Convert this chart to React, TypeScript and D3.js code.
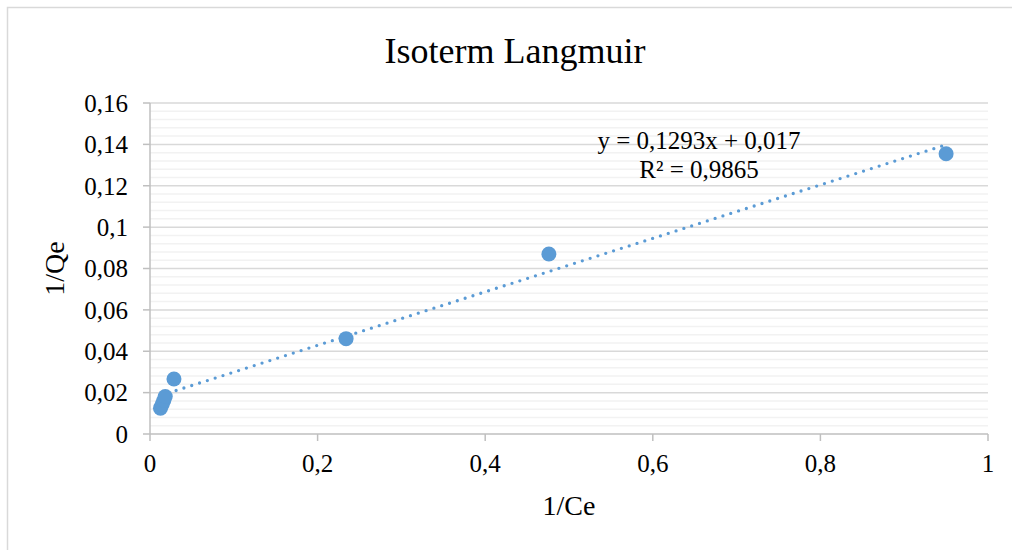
import React from 'react';
import * as d3 from 'd3';

// 1/Ce vs 1/Qe readings
const invCe = [0.0125, 0.0145, 0.0165, 0.0182, 0.0286, 0.234, 0.476, 0.95];
const invQe = [0.0125, 0.0143, 0.0162, 0.0181, 0.0266, 0.0461, 0.087, 0.1355];

// linear trendline as printed on the chart
const trendSlope = 0.1293;
const trendIntercept = 0.017;
const trendLabel = 'y = 0,1293x + 0,017';
const r2Label = 'R² = 0,9865';

const xTicks = [0, 0.2, 0.4, 0.6, 0.8, 1];
const yTicks = [0, 0.02, 0.04, 0.06, 0.08, 0.1, 0.12, 0.14, 0.16];

const W = 1012;
const H = 550;
const margin = { top: 103, right: 24, bottom: 116, left: 150 };
const FONT = '"Liberation Serif", "Times New Roman", serif';
const BLUE = '#5b9bd5';

const locale = d3.formatLocale({ decimal: ',', thousands: '.', grouping: [3], currency: ['', ''] });
const fmt = locale.format('~g');

export default function App() {
    const innerW = W - margin.left - margin.right;
    const innerH = H - margin.top - margin.bottom;

    const x = d3.scaleLinear().domain([0, 1]).range([margin.left, margin.left + innerW]);
    const y = d3.scaleLinear().domain([0, 0.16]).range([margin.top + innerH, margin.top]);

    const minorTicks = d3.range(0, 41).map(i => i * 0.004).filter((v, i) => i % 5 !== 0 && v <= 0.16);

    const points = invCe.map((v, i) => ({ x: v, y: invQe[i] }));
    const xMin = d3.min(invCe);
    const xMax = d3.max(invCe);
    const trend = d3.line()
        .x(d => x(d[0]))
        .y(d => y(d[1]));
    const trendPath = trend([
        [xMin, trendSlope * xMin + trendIntercept],
        [xMax, trendSlope * xMax + trendIntercept],
    ]);

    const x0 = x(0);
    const y0 = y(0);

    return (
        <svg width={W} height={H} style={{ position: 'absolute', left: 0, top: 0, background: '#fff' }}>
            <rect x={7.5} y={7.5} width={W + 20} height={H + 20} fill="#fff" stroke="#d9d9d9" strokeWidth={1.5} />

            <text x={515} y={63} textAnchor="middle" fontFamily={FONT} fontSize={36} fill="#000">
                Isoterm Langmuir
            </text>

            {/* minor gridlines */}
            {minorTicks.map(t => (
                <line key={'m' + t} x1={x0} x2={x(1)} y1={y(t)} y2={y(t)} stroke="#f2f2f2" strokeWidth={1.5} />
            ))}
            {/* major gridlines */}
            {yTicks.slice(1).map(t => (
                <line key={'g' + t} x1={x0} x2={x(1)} y1={y(t)} y2={y(t)} stroke="#d9d9d9" strokeWidth={1.5} />
            ))}

            {/* axes */}
            <line x1={x0} x2={x0} y1={y(0.16)} y2={y0} stroke="#bfbfbf" strokeWidth={1.5} />
            <line x1={x0} x2={x(1)} y1={y0} y2={y0} stroke="#bfbfbf" strokeWidth={1.5} />
            {yTicks.map(t => (
                <g key={'y' + t}>
                    <line x1={x0 - 7} x2={x0} y1={y(t)} y2={y(t)} stroke="#bfbfbf" strokeWidth={1.5} />
                    <text x={x0 - 22} y={y(t)} dy="0.35em" textAnchor="end" fontFamily={FONT} fontSize={25} fill="#000">
                        {fmt(t)}
                    </text>
                </g>
            ))}
            {xTicks.map(t => (
                <g key={'x' + t}>
                    <line x1={x(t)} x2={x(t)} y1={y0} y2={y0 + 7} stroke="#bfbfbf" strokeWidth={1.5} />
                    <text x={x(t)} y={472} textAnchor="middle" fontFamily={FONT} fontSize={25} fill="#000">
                        {fmt(t)}
                    </text>
                </g>
            ))}

            <text x={(x0 + x(1)) / 2} y={515} textAnchor="middle" fontFamily={FONT} fontSize={28} fill="#000">
                1/Ce
            </text>
            <text
                transform={`translate(64,${(y(0.16) + y0) / 2}) rotate(-90)`}
                textAnchor="middle"
                fontFamily={FONT}
                fontSize={28}
                fill="#000"
            >
                1/Qe
            </text>

            {/* trendline */}
            <path d={trendPath} fill="none" stroke={BLUE} strokeWidth={3.3} strokeDasharray="0 8.2" strokeLinecap="round" />

            {points.map((p, i) => (
                <circle key={i} cx={x(p.x)} cy={y(p.y)} r={7.5} fill={BLUE} />
            ))}

            <text x={699} y={149} textAnchor="middle" fontFamily={FONT} fontSize={25} fill="#000">
                {trendLabel}
            </text>
            <text x={699} y={178} textAnchor="middle" fontFamily={FONT} fontSize={25} fill="#000">
                {r2Label}
            </text>
        </svg>
    );
}
